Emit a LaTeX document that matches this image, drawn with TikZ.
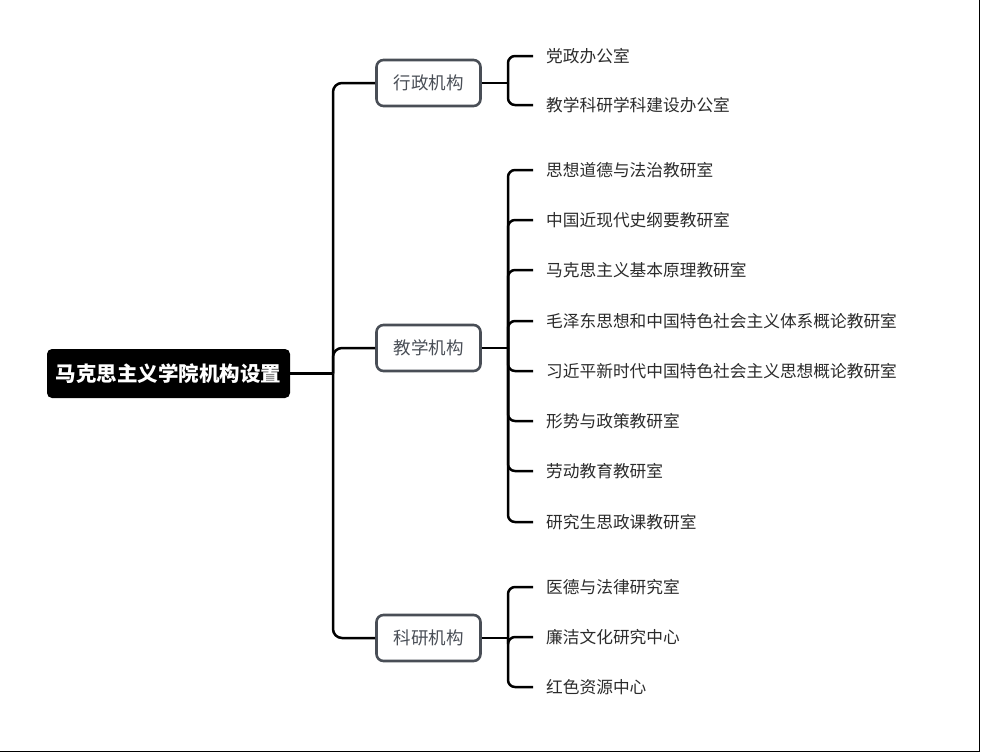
\documentclass[tikz,border=0pt]{standalone}
\usepackage{fontspec}
\setmainfont{Noto Sans CJK SC}
\definecolor{boxgray}{HTML}{494E56}
\definecolor{leaftext}{HTML}{2B2B2B}
\begin{document}
\begin{tikzpicture}[x=1pt,y=-1pt,
	line/.style={line width=2.5pt, black, rounded corners=9pt},
	rootbox/.style={rectangle, rounded corners=5pt, fill=black, text=white, font=\fontsize{20.5}{24}\selectfont\bfseries, minimum width=243pt, minimum height=49pt},
	branchbox/.style={rectangle, rounded corners=7pt, draw=boxgray, line width=2.6pt, fill=white, text=boxgray, font=\fontsize{17.5}{21}\selectfont, minimum width=104pt, minimum height=46pt},
	leaf/.style={anchor=west, inner xsep=13pt, inner ysep=2pt, text=leaftext, font=\fontsize{16.7}{20}\selectfont}]
	\useasboundingbox (0,0) rectangle (981,753);
	\draw[line width=1.6pt] (0,751.5) -- (979.5,751.5) -- (979.5,0);
	\node (root) at (168.5, 373.5)	[rootbox]	{马克思主义学院机构设置};
	\coordinate (T) at (333, 373.5);
	\node (A) at (428.5,  83)	[branchbox]	{行政机构};
	\node (B) at (428.5, 348)	[branchbox]	{教学机构};
	\node (C) at (428.5, 638)	[branchbox]	{科研机构};
	\draw[line] (root.east) -- (T);
	\draw[line] (T) |- (A.west);
	\draw[line] (T) |- (B.west);
	\draw[line] (T) |- (C.west);
	% leaves
	\coordinate (JA) at (508,  83);
	\coordinate (JB) at (508, 348);
	\coordinate (JC) at (508, 638);
	\draw[line] (A.east) -- (JA);
	\draw[line] (B.east) -- (JB);
	\draw[line] (C.east) -- (JC);
	\node (A1) at (533,  56)	[leaf]	{党政办公室};
	\node (A2) at (533, 105)	[leaf]	{教学科研学科建设办公室};
	\node (B1) at (533, 170)	[leaf]	{思想道德与法治教研室};
	\node (B2) at (533, 220)	[leaf]	{中国近现代史纲要教研室};
	\node (B3) at (533, 270)	[leaf]	{马克思主义基本原理教研室};
	\node (B4) at (533, 321)	[leaf]	{毛泽东思想和中国特色社会主义体系概论教研室};
	\node (B5) at (533, 371)	[leaf]	{习近平新时代中国特色社会主义思想概论教研室};
	\node (B6) at (533, 421)	[leaf]	{形势与政策教研室};
	\node (B7) at (533, 471)	[leaf]	{劳动教育教研室};
	\node (B8) at (533, 522)	[leaf]	{研究生思政课教研室};
	\node (C1) at (533, 587)	[leaf]	{医德与法律研究室};
	\node (C2) at (533, 637)	[leaf]	{廉洁文化研究中心};
	\node (C3) at (533, 687)	[leaf]	{红色资源中心};
	\foreach \n in {A1,A2} \draw[line, rounded corners=7pt] (JA) |- (\n.west);
	\foreach \n in {B1,B2,B3,B4,B5,B6,B7,B8} \draw[line, rounded corners=7pt] (JB) |- (\n.west);
	\foreach \n in {C1,C2,C3} \draw[line, rounded corners=7pt] (JC) |- (\n.west);
\end{tikzpicture}
\end{document}
